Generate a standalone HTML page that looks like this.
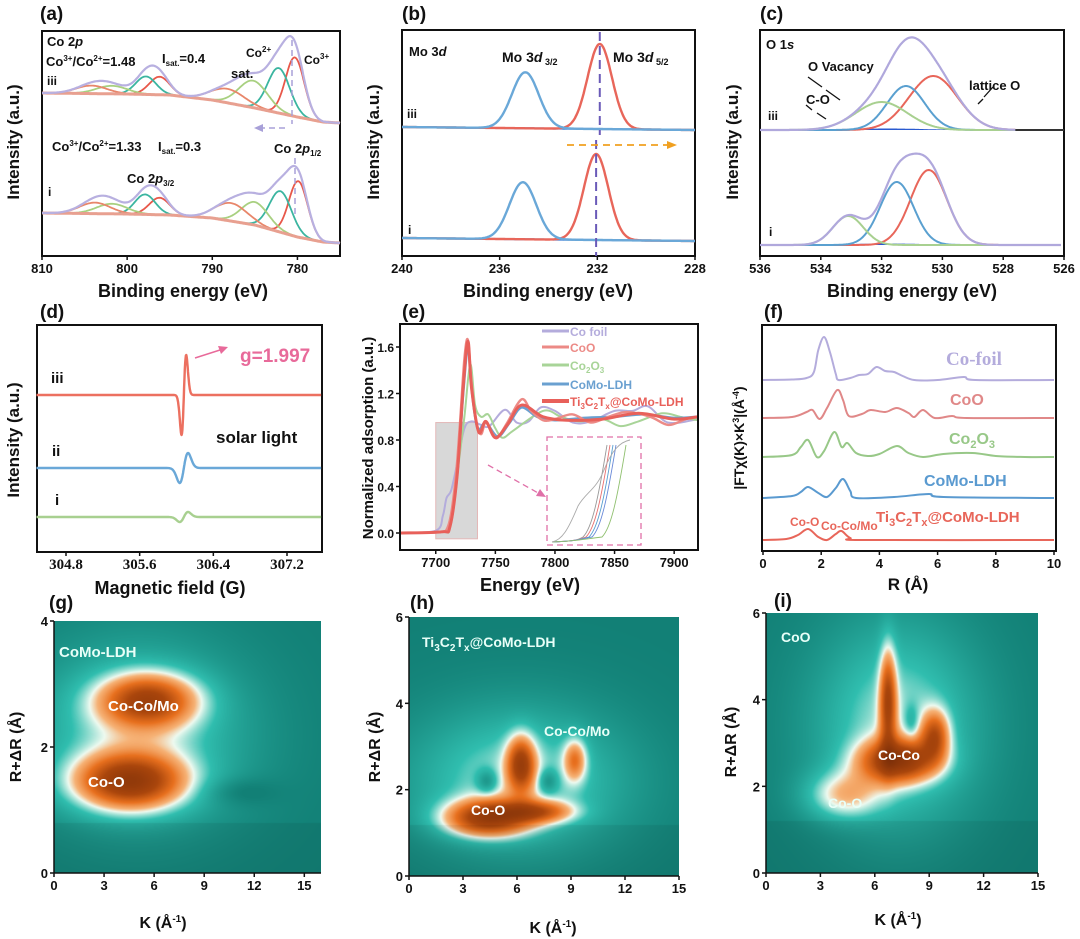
<!DOCTYPE html>
<html><head><meta charset="utf-8">
<style>
html,body{margin:0;padding:0;background:#fff;}
#wrap{position:relative;width:1080px;height:939px;overflow:hidden;background:#fff;}
canvas{position:absolute;}
svg{position:absolute;left:0;top:0;}
text{font-family:"Liberation Sans",Arial,sans-serif;font-weight:bold;}
.serif{font-family:"Liberation Serif",serif;}
</style></head>
<body>
<div id="wrap">
<canvas id="cg" width="267" height="252" style="left:54px;top:621px"></canvas>
<canvas id="ch" width="270" height="259" style="left:409px;top:617px"></canvas>
<canvas id="ci" width="272" height="260" style="left:766px;top:613px"></canvas>
<svg id="s" width="1080" height="939" viewBox="0 0 1080 939"></svg>
</div>
<script>
// ---------- DATA ----------
const aBgIII=[[810,32],[800,31],[795,30],[790,25],[785,17],[780,8],[777,3],[775,2]];
const aPeaksIII=[[780.3,59,1.1],[782.2,45,1.3],[785.2,27,1.7],[788.2,14,2.0],[796.2,18,1.2],[797.8,18,1.2],[801.8,8,1.8],[804.2,8,1.8]];
const aBgI=[[810,32],[800,31],[795,30],[790,27],[785,20],[780,8],[777,3],[775,2]];
const aPeaksI=[[779.9,56,1.1],[782.0,41,1.3],[785.0,23,1.6],[787.8,18,1.9],[796.2,17,1.2],[797.9,20,1.2],[801.8,10,1.8],[803.8,11,1.8]];
const aColors=['#e8584a','#3bb5a0','#a8d080','#e8866a','#e8584a','#3bb5a0','#a8d080','#e8866a'];
const bPeaksIII=[[231.9,85,0.5],[234.95,56,0.55]];
const bPeaksI=[[232.05,86,0.5],[235.05,57,0.55]];
const cPeaksIII=[[530.3,54,0.8],[531.2,44,0.62],[532.0,28,0.85]];
const cPeaksI=[[530.45,75,0.6],[531.5,63,0.55],[533.1,29,0.5]];
const dCenter=306.08;
const dAmps=[40,15,5];
const dWidths=[0.025,0.045,0.045];
const dLabels=['iii','ii','i'];
const eCoFoil=[[7670,0],[7700,0.02],[7706,0.15],[7709,0.3],[7713,0.37],[7718,0.6],[7724,0.9],[7730,0.96],[7738,0.93],[7745,0.92],[7758,1.06],[7768,0.95],[7778,0.96],[7788,1.08],[7800,1.05],[7815,0.95],[7830,0.96],[7850,1.05],[7865,1.05],[7878,1.09],[7895,0.95],[7920,0.98]];
const eCoO=[[7670,0],[7700,0.01],[7710,0.05],[7716,0.4],[7720,0.9],[7724,1.5],[7727,1.66],[7730,1.3],[7734,0.95],[7738,0.85],[7742,0.95],[7748,0.85],[7752,0.82],[7760,0.95],[7772,1.15],[7780,1.05],[7790,0.97],[7800,0.98],[7815,1.02],[7830,0.95],[7845,1.0],[7860,1.04],[7880,1.0],[7895,0.93],[7910,0.98],[7920,1.0]];
const eCo2O3=[[7670,0],[7705,0.01],[7712,0.05],[7718,0.5],[7724,1.0],[7729,1.45],[7733,1.1],[7738,1.0],[7744,1.02],[7750,0.9],[7756,0.82],[7765,0.88],[7790,1.05],[7805,1.0],[7820,0.96],[7840,0.98],[7855,0.92],[7870,0.96],[7890,1.03],[7905,1.0],[7920,0.97]];
const eLDH=[[7670,0],[7705,0.01],[7712,0.06],[7718,0.5],[7723,1.2],[7727,1.6],[7730,1.25],[7735,0.9],[7742,0.95],[7752,0.83],[7762,0.95],[7772,1.08],[7785,1.0],[7800,0.97],[7825,0.99],[7850,1.0],[7875,1.02],[7900,0.99],[7920,1.0]];
const eTi=[[7670,0],[7705,0.01],[7712,0.06],[7718,0.5],[7723,1.25],[7727,1.65],[7730,1.25],[7736,0.87],[7742,0.96],[7750,0.82],[7760,0.93],[7772,1.1],[7790,1.0],[7810,0.97],[7840,0.98],[7870,1.03],[7900,0.98],[7920,1.0]];
const eNames=['Co foil','CoO','Co2O3','CoMo-LDH','Ti3C2Tx@CoMo-LDH'];
const fCoFoil=[[0,0],[1,0.5],[1.5,2],[1.75,8],[1.9,30],[2.1,43],[2.3,28],[2.5,6],[2.6,0],[3,2],[3.3,5],[3.6,6],[3.9,13],[4.2,9],[4.5,8],[4.8,4],[5.2,0],[6,0],[6.9,3],[7.3,0],[10,0]];
const fCoO=[[0,0],[1,1],[1.5,6],[1.7,8],[1.95,-1],[2.2,10],[2.55,28],[2.75,18],[2.95,2],[3.4,4],[3.7,8],[4.2,6],[4.6,10],[5.0,5],[5.2,1],[5.5,8],[5.9,0],[6.5,2],[7,0],[10,0]];
const fCo2O3=[[0,0],[1,2],[1.3,10],[1.55,17],[1.85,0],[2.1,6],[2.45,25],[2.7,10],[2.9,14],[3.2,4],[3.6,1],[4.0,3],[4.6,11],[5.0,4],[5.5,0],[6.2,3],[7.2,4],[8,1],[9,0],[10,0]];
const fLDH=[[0,0],[1,2],[1.3,6],[1.55,11],[1.9,5],[2.2,1],[2.5,10],[2.75,19],[3.0,7],[3.2,0],[4.5,1],[5.7,4],[6.2,1],[10,0]];
const fTi=[[0,0],[0.8,1],[1.2,5],[1.55,11],[1.9,3],[2.2,0],[2.5,6],[2.7,9],[3.0,2],[3.5,0],[10,0]];
const gBlobs=[[4.5,1.45,0.95,2.4,0.32],[5.6,2.75,0.8,2.1,0.3],[5,2.2,0.42,4.5,1.0],[11,1.3,-0.12,1.5,0.15]];
const hBlobs=[[4.3,1.35,0.9,1.7,0.3],[7.2,1.5,0.55,1.4,0.18],[6.2,2.6,0.78,0.55,0.45],[9.2,2.7,0.5,0.45,0.35],[6,2.2,0.45,4.2,1.2],[4.3,2.2,-0.3,0.4,0.2],[7.7,2.2,-0.3,0.4,0.2]];
const iBlobs=[[7.3,2.6,0.9,1.5,0.35],[6.7,4.0,0.7,0.32,0.85],[9.3,3.2,0.62,0.55,0.4],[7.2,3.4,0.45,3.2,1.7],[4.2,1.8,0.42,1.5,0.4],[8,3.5,-0.2,0.3,0.3]];
const kTicks=[0,3,6,9,12,15];

// ---------- HELPERS ----------
const NS='http://www.w3.org/2000/svg';
const svg=document.getElementById('s');
function lin(d0,d1,r0,r1){return v=>r0+(v-d0)*(r1-r0)/(d1-d0);}
function mk(tag,attrs,name,inter){const el=document.createElementNS(NS,tag);for(const k in attrs)el.setAttribute(k,attrs[k]);


svg.appendChild(el);return el;}
function txt(x,y,html,name,size,opts){opts=opts||{};const el=mk('text',{x:x,y:y,'font-size':size||13,fill:opts.fill||'#111','text-anchor':opts.anchor||'start'},name,false);
if(opts.cls)el.setAttribute('class',opts.cls);
if(opts.rot)el.setAttribute('transform','rotate(-90 '+x+' '+y+')');
el.innerHTML=html;return el;}
function frame(x0,y0,x1,y1,name){mk('rect',{x:x0,y:y0,width:x1-x0,height:y1-y0,fill:'none',stroke:'#111','stroke-width':2},name,false);}
function gauss(x,p){return p[1]*Math.exp(-((x-p[0])**2)/(2*p[2]*p[2]));}
function interp(arr,x){for(let i=0;i<arr.length-1;i++){const a=arr[i],b=arr[i+1];if((x>=a[0]&&x<=b[0])||(x<=a[0]&&x>=b[0])){return a[1]+(b[1]-a[1])*(x-a[0])/(b[0]-a[0]);}}return arr[arr.length-1][1];}
function fnPath(x0,x1,f,sx,sy,n){n=n||300;let d='';for(let i=0;i<=n;i++){const x=x0+(x1-x0)*i/n;d+=(i?'L':'M')+sx(x).toFixed(1)+','+sy(f(x)).toFixed(1);}return d;}
function smooth(pts){let d='M'+pts[0][0].toFixed(1)+','+pts[0][1].toFixed(1);for(let i=0;i<pts.length-1;i++){const p0=pts[i-1]||pts[i],p1=pts[i],p2=pts[i+1],p3=pts[i+2]||p2;
d+='C'+(p1[0]+(p2[0]-p0[0])/6).toFixed(1)+','+(p1[1]+(p2[1]-p0[1])/6).toFixed(1)+' '+(p2[0]-(p3[0]-p1[0])/6).toFixed(1)+','+(p2[1]-(p3[1]-p1[1])/6).toFixed(1)+' '+p2[0].toFixed(1)+','+p2[1].toFixed(1);}return d;}
function path(d,stroke,w,name,extra){const a={d:d,fill:'none',stroke:stroke,'stroke-width':w,'stroke-linejoin':'round'};for(const k in (extra||{}))a[k]=extra[k];return mk('path',a,name,false);}
function xTicks(vals,sx,y,name,fmt,cls,size){vals.forEach(v=>{mk('line',{x1:sx(v),x2:sx(v),y1:y,y2:y+4,stroke:'#111','stroke-width':1.5},name+'-tick',false);
txt(sx(v),y+17,fmt?fmt(v):String(v),name+'-label',size||13,{anchor:'middle',cls:cls});});}
function yTicks(vals,sy,x,name,fmt,size){vals.forEach(v=>{mk('line',{x1:x-4,x2:x,y1:sy(v),y2:sy(v),stroke:'#111','stroke-width':1.5},name+'-tick',false);
txt(x-6,sy(v)+5,fmt?fmt(v):String(v),name+'-label',size||13,{anchor:'end'});});}

// ---------- (a) ----------
txt(40,20,'(a)','panel-label-a',19);
frame(42,31,340,256,'frame-a');
{const sx=lin(810,775,42,340);
 [[aBgIII,aPeaksIII,125],[aBgI,aPeaksI,245]].forEach(([bg,pk,off],si)=>{
  const sy=v=>off-v;const tag=si?'i':'iii';
  pk.forEach((p,j)=>path(fnPath(810,775,x=>interp(bg,x)+gauss(x,p),sx,sy),aColors[j],1.8,'co2p-component-'+tag));
  path(fnPath(810,775,x=>interp(bg,x),sx,sy),'#e8a090',3,'co2p-background-'+tag);
  path(fnPath(810,775,x=>interp(bg,x)+pk.reduce((s,p)=>s+gauss(x,p),0),sx,sy),'#b8b0e0',2.2,'co2p-envelope-'+tag);
 });
 xTicks([810,800,790,780],sx,256,'a-xtick');
 mk('line',{x1:292,x2:292,y1:40,y2:124,stroke:'#a8a0d8','stroke-width':1.5,'stroke-dasharray':'6,4'},'co3-ref-line-iii',false);
 mk('line',{x1:295,x2:295,y1:158,y2:215,stroke:'#a8a0d8','stroke-width':1.5,'stroke-dasharray':'6,4'},'co3-ref-line-i',false);
 mk('line',{x1:285,x2:262,y1:128,y2:128,stroke:'#a8a0d8','stroke-width':1.5,'stroke-dasharray':'6,4'},'shift-arrow-a',false);
 mk('path',{d:'M254,128 L263,124 L263,132 Z',fill:'#a8a0d8'},'shift-arrowhead-a',false);
}
txt(47,46,'Co 2<tspan font-style="italic">p</tspan>','co2p-title',13);
txt(46,66,'Co<tspan font-size="8" dy="-5">3+</tspan><tspan dy="5">/Co</tspan><tspan font-size="8" dy="-5">2+</tspan><tspan dy="5">=1.48</tspan>','ratio-iii',13);
txt(162,63,'I<tspan font-size="8" dy="3">sat.</tspan><tspan dy="-3">=0.4</tspan>','isat-iii',13);
txt(47,85,'iii','trace-label-a-iii',12);
txt(231,78,'sat.','sat-label',13);
txt(246,57,'Co<tspan font-size="8" dy="-5">2+</tspan>','co2-label',12);
txt(304,64,'Co<tspan font-size="8" dy="-5">3+</tspan>','co3-label',12);
txt(52,151,'Co<tspan font-size="8" dy="-5">3+</tspan><tspan dy="5">/Co</tspan><tspan font-size="8" dy="-5">2+</tspan><tspan dy="5">=1.33</tspan>','ratio-i',13);
txt(158,151,'I<tspan font-size="8" dy="3">sat.</tspan><tspan dy="-3">=0.3</tspan>','isat-i',13);
txt(274,153,'Co 2<tspan font-style="italic">p</tspan><tspan font-size="8" dy="3">1/2</tspan>','co2p12-label',13);
txt(127,183,'Co 2<tspan font-style="italic">p</tspan><tspan font-size="8" dy="3">3/2</tspan>','co2p32-label',13);
txt(48,196,'i','trace-label-a-i',12);
txt(183,297,'Binding energy (eV)','x-axis-title-a',18,{anchor:'middle'});
txt(19,142,'Intensity (a.u.)','y-axis-title-a',17,{anchor:'middle',rot:true});

// ---------- (b) ----------
txt(402,20,'(b)','panel-label-b',19);
frame(402,30,695,256,'frame-b');
{const sx=lin(240,228,402,695);
 [[bPeaksIII,127],[bPeaksI,238]].forEach(([pk,off],si)=>{const sy=v=>off-v;const tag=si?'i':'iii';
  const tilt=x=>(240-x)*0.25;
  path(fnPath(240,228,x=>-tilt(x),sx,v=>off-v),'#3b7dd8',2,'mo3d-baseline-'+tag);
  path(fnPath(240,228,x=>gauss(x,pk[0])-tilt(x),sx,sy),'#e8665a',2.4,'mo3d52-peak-'+tag);
  path(fnPath(240,228,x=>gauss(x,pk[1])-tilt(x),sx,sy),'#6aa8d8',2.4,'mo3d32-peak-'+tag);
 });
 mk('line',{x1:sx(231.9),x2:sx(231.9),y1:32,y2:135,stroke:'#6a5ab8','stroke-width':2,'stroke-dasharray':'9,5'},'mo-ref-line-iii',false);
 mk('line',{x1:sx(232.05),x2:sx(232.05),y1:140,y2:256,stroke:'#6a5ab8','stroke-width':2,'stroke-dasharray':'9,5'},'mo-ref-line-i',false);
 mk('line',{x1:567,x2:668,y1:145,y2:145,stroke:'#f0a020','stroke-width':1.8,'stroke-dasharray':'7,5'},'shift-arrow-b',false);
 mk('path',{d:'M677,145 L667,141 L667,149 Z',fill:'#f0a020'},'shift-arrowhead-b',false);
 xTicks([240,236,232,228],sx,256,'b-xtick');
}
txt(409,56,'Mo 3<tspan font-style="italic">d</tspan>','mo3d-title',13);
txt(502,62,'Mo 3<tspan font-style="italic">d</tspan><tspan font-size="9" dy="3"> 3/2</tspan>','mo3d32-label',14);
txt(613,62,'Mo 3<tspan font-style="italic">d</tspan><tspan font-size="9" dy="3"> 5/2</tspan>','mo3d52-label',14);
txt(407,118,'iii','trace-label-b-iii',12);
txt(408,234,'i','trace-label-b-i',12);
txt(548,297,'Binding energy (eV)','x-axis-title-b',18,{anchor:'middle'});
txt(379,142,'Intensity (a.u.)','y-axis-title-b',17,{anchor:'middle',rot:true});

// ---------- (c) ----------
txt(760,20,'(c)','panel-label-c',19);
frame(760,30,1064,256,'frame-c');
{const sx=lin(536,526,760,1064);
 [[cPeaksIII,130,527.6],[cPeaksI,245,526.1]].forEach(([pk,off,end],si)=>{const sy=v=>off-v;const tag=si?'i':'iii';
  mk('path',{d:fnPath(535,528,x=>1.5*Math.exp(-((x-531.8)**2)/3),sx,sy)+'L'+sx(528)+','+off+'L'+sx(535)+','+off+'Z',fill:'#2a5ad0',stroke:'none'},'o1s-bg-fill-'+tag,false);
  const cols=['#e8665a','#5aa0d0','#a8d090'];
  pk.forEach((p,j)=>path(fnPath(536,end,x=>gauss(x,p),sx,sy),cols[j],2,'o1s-component-'+tag));
  path(fnPath(536,end,x=>pk.reduce((s,p)=>s+gauss(x,p),0),sx,sy),'#b0a8dc',2.2,'o1s-envelope-'+tag);
 });
 mk('line',{x1:sx(527.6),x2:1064,y1:130,y2:130,stroke:'#333','stroke-width':2},'o1s-tail-iii',false);
 xTicks([536,534,532,530,528,526],sx,256,'c-xtick');
}
[[808,77,822,87],[826,90,840,100],[806,105,812,110],[817,113,826,119],[993,87,984,97],[983,99,978,104]].forEach(l=>mk('line',{x1:l[0],y1:l[1],x2:l[2],y2:l[3],stroke:'#111','stroke-width':1.3},'leader-line',false));
txt(766,49,'O 1<tspan font-style="italic">s</tspan>','o1s-title',13);
txt(808,71,'O Vacancy','o-vacancy-label',13);
txt(806,104,'C-O','c-o-label',13);
txt(969,90,'lattice O','lattice-o-label',13);
txt(768,120,'iii','trace-label-c-iii',12);
txt(769,236,'i','trace-label-c-i',12);
txt(912,297,'Binding energy (eV)','x-axis-title-c',18,{anchor:'middle'});
txt(738,142,'Intensity (a.u.)','y-axis-title-c',17,{anchor:'middle',rot:true});

// ---------- (d) ----------
txt(40,318,'(d)','panel-label-d',19);
frame(37,325,322,552,'frame-d');
{const sx=lin(304.8,307.2,66,287);const offs=[395,468,517];const cols=['#ec7060','#6aa8d8','#a8d090'];
 dAmps.forEach((a,i)=>{const w=dWidths[i];const f=x=>{const u=(x-dCenter)/w;return -a*1.65*u*Math.exp(-u*u/2);};
  path(fnPath(304.48,307.57,f,sx,v=>offs[i]+v,800),cols[i],2.4,'epr-trace-'+dLabels[i]);
  txt(i==0?51:(i==1?52:55),offs[i]-12,dLabels[i],'trace-label-d-'+dLabels[i],15);
 });
 xTicks([304.8,305.6,306.4,307.2],sx,552,'d-xtick',v=>v.toFixed(1),'serif',15);
}
mk('line',{x1:195,y1:358,x2:220,y2:350,stroke:'#e86a9a','stroke-width':1.5},'g-arrow',false);
mk('path',{d:'M228,347 L218,346 L221,354 Z',fill:'#e86a9a'},'g-arrowhead',false);
txt(240,362,'g=1.997','g-value-label',19,{fill:'#e86a9a'});
txt(216,443,'solar light','solar-light-label',17);
txt(170,594,'Magnetic field (G)','x-axis-title-d',18,{anchor:'middle'});
txt(19,440,'Intensity (a.u.)','y-axis-title-d',17,{anchor:'middle',rot:true});

// ---------- (e) ----------
txt(402,318,'(e)','panel-label-e',19);
{const sx=lin(7670,7920,400,698),sy=lin(0,1.6,533,347);
 mk('rect',{x:sx(7700),y:sy(0.95),width:sx(7735)-sx(7700),height:sy(-0.05)-sy(0.95),fill:'#d4d4d4',stroke:'#e0b0b0','stroke-width':1,opacity:0.9},'zoom-region',false);
 const series=[[eCoFoil,'#b4acdc',2],[eCo2O3,'#a8d498',2],[eLDH,'#6aa0d0',2.5],[eCoO,'#ec8a86',2.4],[eTi,'#e8605a',3]];
 series.forEach(s=>path(smooth(s[0].map(p=>[sx(p[0]),sy(p[1])])),s[1],s[2],'xanes-line'));
 mk('rect',{x:547,y:437,width:94,height:108,fill:'none',stroke:'#e070a8','stroke-width':1.3,'stroke-dasharray':'6,4'},'inset-box',false);
 mk('line',{x1:488,y1:465,x2:540,y2:494,stroke:'#e070a8','stroke-width':1.3,'stroke-dasharray':'6,4'},'inset-arrow',false);
 mk('path',{d:'M546,497 L536,496 L540,489 Z',fill:'#e070a8'},'inset-arrowhead',false);
 const insCols=['#999','#e87070','#5aa0d0','#6a8ad8','#90c070'];
 [0,1,2,3,4].forEach(i=>{const dx=i*3+(i==4?7:0);
  path('M552,542 C575,541 578,540 '+(583+dx)+',537 C'+(592+dx)+',528 '+(598+dx)+',500 '+(607+dx)+',445',insCols[i],0.9,'inset-line');});
 path('M552,542 C562,540 568,530 578,506 C586,492 596,490 604,470 C612,450 620,442 630,440',"#aaa",0.9,'inset-line-foil');
 frame(400,324,698,550,'frame-e');
 xTicks([7700,7750,7800,7850,7900],sx,550,'e-xtick');
 yTicks([0,0.4,0.8,1.2,1.6],sy,400,'e-ytick',v=>v.toFixed(1),12);
 const lc=['#b4acdc','#ec8a86','#a8d498','#6aa0d0','#e8605a'];const ly=[331,347,365,384,401];
 const lt=['Co foil','CoO','Co<tspan font-size="8" dy="3">2</tspan><tspan dy="-3">O</tspan><tspan font-size="8" dy="3">3</tspan>','CoMo-LDH','Ti<tspan font-size="8" dy="3">3</tspan><tspan dy="-3">C</tspan><tspan font-size="8" dy="3">2</tspan><tspan dy="-3">T</tspan><tspan font-size="8" dy="3">x</tspan><tspan dy="-3">@CoMo-LDH</tspan>'];
 lc.forEach((c,i)=>{mk('line',{x1:542,x2:569,y1:ly[i],y2:ly[i],stroke:c,'stroke-width':i==4?4:3},'legend-swatch',false);
  txt(570,ly[i]+5,lt[i],'legend-entry-'+eNames[i],12,{fill:c});});
}
txt(530,591,'Energy (eV)','x-axis-title-e',18,{anchor:'middle'});
txt(373,438,'Normalized adsorption (a.u.)','y-axis-title-e',15,{anchor:'middle',rot:true});

// ---------- (f) ----------
txt(764,318,'(f)','panel-label-f',19);
{const sx=lin(0,10,763,1054);const offs=[380,418,457,498,540];const cols=['#b4acdc','#e08888','#98c888','#5a9ad0','#e8665a'];
 [fCoFoil,fCoO,fCo2O3,fLDH,fTi].forEach((arr,i)=>path(smooth(arr.map(p=>[sx(p[0]),offs[i]-p[1]])),cols[i],2,'ft-line-'+i));
 frame(762,325,1056,551,'frame-f');
 xTicks([0,2,4,6,8,10],sx,551,'f-xtick');
}
txt(946,365,'Co-foil','label-co-foil',19,{fill:'#b4acdc',cls:'serif'});
txt(950,405,'CoO','label-coo',16,{fill:'#e08888'});
txt(949,444,'Co<tspan font-size="11" dy="4">2</tspan><tspan dy="-4">O</tspan><tspan font-size="11" dy="4">3</tspan>','label-co2o3',16,{fill:'#98c888'});
txt(924,486,'CoMo-LDH','label-como-ldh',16,{fill:'#5a9ad0'});
txt(876,522,'Ti<tspan font-size="11" dy="4">3</tspan><tspan dy="-4">C</tspan><tspan font-size="11" dy="4">2</tspan><tspan dy="-4">T</tspan><tspan font-size="11" dy="4">x</tspan><tspan dy="-4">@CoMo-LDH</tspan>','label-ti3c2tx',15,{fill:'#e8665a'});
txt(790,526,'Co-O','label-f-co-o',12,{fill:'#e8665a'});
txt(821,530,'Co-Co/Mo','label-f-co-co',12,{fill:'#e8665a'});
txt(908,590,'R (Å)','x-axis-title-f',17,{anchor:'middle'});
txt(744,438,'|FTχ(K)×K<tspan font-size="9" dy="-5">3</tspan><tspan dy="5">|(Å</tspan><tspan font-size="9" dy="-5">-4</tspan><tspan dy="5">)</tspan>','y-axis-title-f',14,{anchor:'middle',rot:true});

// ---------- heatmaps ----------
function cmap(t){const st=[[0,[18,128,118]],[0.32,[48,190,175]],[0.5,[238,250,240]],[0.6,[246,178,118]],[0.8,[232,112,30]],[1.05,[170,70,12]],[1.5,[120,45,8]]];
 if(t<=0)return st[0][1];for(let i=0;i<st.length-1;i++){if(t<=st[i+1][0]){const u=(t-st[i][0])/(st[i+1][0]-st[i][0]);return st[i][1].map((c,j)=>c+(st[i+1][1][j]-c)*u);}}return st[st.length-1][1];}
function heat(id,blobs,kmax,rmax){const c=document.getElementById(id);const ctx=c.getContext('2d');const W=c.width,H=c.height;const img=ctx.createImageData(W,H);
 for(let y=0;y<H;y++){const R=rmax*(1-y/H);for(let x=0;x<W;x++){const k=kmax*x/W;let v=0;
  blobs.forEach(b=>{v+=b[2]*Math.exp(-((k-b[0])**2)/(2*b[3]*b[3])-((R-b[1])**2)/(2*b[4]*b[4]));});
  let col=cmap(v);if(R<rmax*0.2){col=col.map(q=>q*0.93);}
  const i=(y*W+x)*4;img.data[i]=col[0];img.data[i+1]=col[1];img.data[i+2]=col[2];img.data[i+3]=255;}}
 ctx.putImageData(img,0,0);}
heat('cg',gBlobs,16,4);heat('ch',hBlobs,15,6);heat('ci',iBlobs,15,6);

// (g)
txt(49,609,'(g)','panel-label-g',19);
{const sx=lin(0,16,54,321),sy=lin(0,4,873,621);
 mk('line',{x1:54,y1:621,x2:54,y2:873,stroke:'#111','stroke-width':1.5},'y-axis-g',false);
 mk('line',{x1:54,y1:873,x2:321,y2:873,stroke:'#111','stroke-width':1.5},'x-axis-g',false);
 xTicks(kTicks,sx,873,'g-xtick');yTicks([0,2,4],sy,54,'g-ytick');}
txt(59,657,'CoMo-LDH','label-como-ldh-g',15,{fill:'#e8fff8'});
txt(108,711,'Co-Co/Mo','label-g-co-co',15,{fill:'#fff'});
txt(88,787,'Co-O','label-g-co-o',15,{fill:'#fff'});
txt(163,928,'K (Å<tspan font-size="10" dy="-6">-1</tspan><tspan dy="6">)</tspan>','x-axis-title-g',16,{anchor:'middle'});
txt(21,747,'R+ΔR (Å)','y-axis-title-g',16,{anchor:'middle',rot:true});
// (h)
txt(410,609,'(h)','panel-label-h',19);
{const sx=lin(0,15,409,679),sy=lin(0,6,876,617);
 mk('line',{x1:409,y1:617,x2:409,y2:876,stroke:'#111','stroke-width':1.5},'y-axis-h',false);
 mk('line',{x1:409,y1:876,x2:679,y2:876,stroke:'#111','stroke-width':1.5},'x-axis-h',false);
 xTicks(kTicks,sx,876,'h-xtick');yTicks([0,2,4,6],sy,409,'h-ytick');}
txt(422,647,'Ti<tspan font-size="10" dy="4">3</tspan><tspan dy="-4">C</tspan><tspan font-size="10" dy="4">2</tspan><tspan dy="-4">T</tspan><tspan font-size="10" dy="4">x</tspan><tspan dy="-4">@CoMo-LDH</tspan>','label-ti3c2tx-h',14,{fill:'#e8fff8'});
txt(544,736,'Co-Co/Mo','label-h-co-co',14,{fill:'#e8fff8'});
txt(471,815,'Co-O','label-h-co-o',14,{fill:'#fff'});
txt(553,933,'K (Å<tspan font-size="10" dy="-6">-1</tspan><tspan dy="6">)</tspan>','x-axis-title-h',16,{anchor:'middle'});
txt(380,747,'R+ΔR (Å)','y-axis-title-h',16,{anchor:'middle',rot:true});
// (i)
txt(774,607,'(i)','panel-label-i',19);
{const sx=lin(0,15,766,1038),sy=lin(0,6,873,613);
 mk('line',{x1:766,y1:613,x2:766,y2:873,stroke:'#111','stroke-width':1.5},'y-axis-i',false);
 mk('line',{x1:766,y1:873,x2:1038,y2:873,stroke:'#111','stroke-width':1.5},'x-axis-i',false);
 xTicks(kTicks,sx,873,'i-xtick');yTicks([0,2,4,6],sy,766,'i-ytick');}
txt(781,642,'CoO','label-coo-i',14,{fill:'#e8fff8'});
txt(878,760,'Co-Co','label-i-co-co',14,{fill:'#fff'});
txt(828,808,'Co-O','label-i-co-o',14,{fill:'#e8fff8'});
txt(898,925,'K (Å<tspan font-size="10" dy="-6">-1</tspan><tspan dy="6">)</tspan>','x-axis-title-i',16,{anchor:'middle'});
txt(736,742,'R+ΔR (Å)','y-axis-title-i',16,{anchor:'middle',rot:true});
</script>
</body></html>
